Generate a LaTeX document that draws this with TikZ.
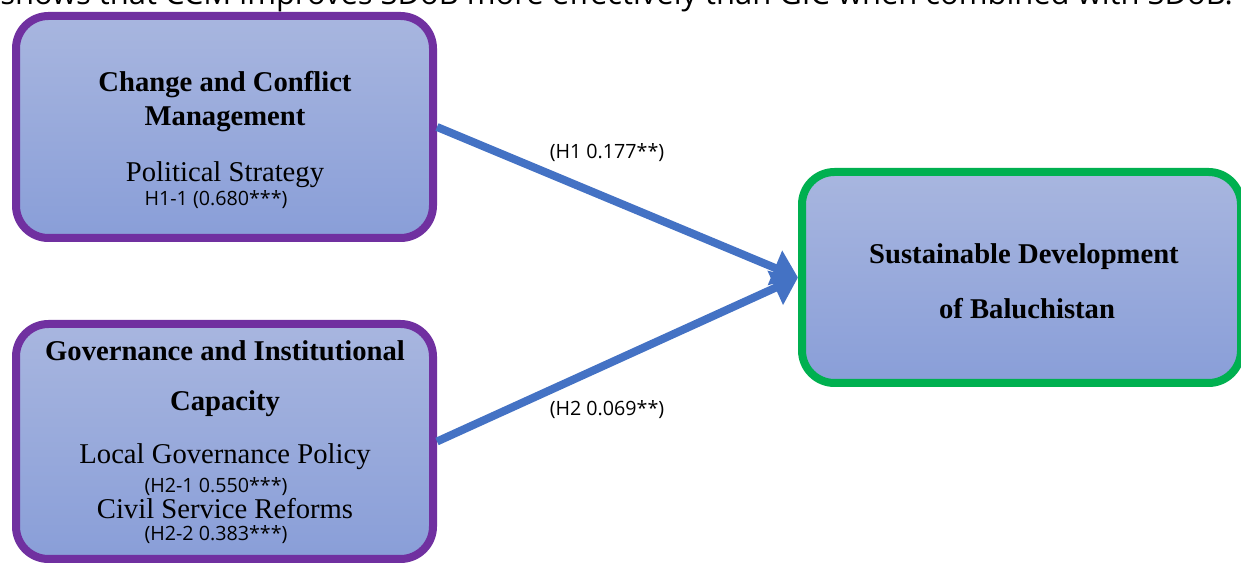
\documentclass[tikz,border=0pt]{standalone}
\usepackage{fontspec}
\setmainfont{Liberation Serif}
\newfontfamily\labelfont{Open Sans}
\usepackage{xcolor}
\usetikzlibrary{positioning}
\usetikzlibrary{arrows.meta}
\usetikzlibrary{math}

\definecolor{boxtop}{HTML}{A8B6DF}
\definecolor{boxbottom}{HTML}{899ED8}
\definecolor{ivpurple}{HTML}{7030A0}
\definecolor{dvgreen}{HTML}{00B050}
\definecolor{pathblue}{HTML}{4472C4}

\tikzset{
  construct/.style={rectangle, rounded corners=0.65cm, line width=0.16cm,
    top color=boxtop, bottom color=boxbottom, inner sep=0pt},
  heading/.style={font=\fontsize{16.3}{18}\selectfont\bfseries, inner sep=0pt},
  item/.style={font=\fontsize{16.3}{18}\selectfont, inner sep=0pt},
  coef/.style={font=\labelfont\fontsize{11.2}{13}\selectfont, inner sep=0pt},
  effect/.style={draw=pathblue, line width=0.16cm,
    -{Triangle[length=0.5cm,width=0.72cm]}},
}

\begin{document}
\begin{tikzpicture}

  \useasboundingbox (0,0) rectangle (24.82,-11.3);
  \clip (0,0) rectangle (24.82,-11.3);

  % Caption line cut off above the figure
  \node[font=\labelfont\fontsize{17.6}{20}\selectfont, inner sep=0pt,
    anchor=base west] (caption) at (0,-0.1)
    {shows that CCM improves SDoB more effectively than GIC when combined with SDoB.};

  % Constructs
  \node[construct, draw=ivpurple, minimum width=8.34cm, minimum height=4.44cm]
    (ccm) at (4.49,-2.54) {};
  \node[construct, draw=ivpurple, minimum width=8.34cm, minimum height=4.70cm]
    (gic) at (4.49,-8.83) {};
  \node[construct, draw=dvgreen, minimum width=8.78cm, minimum height=4.22cm]
    (sdob) at (20.43,-5.55) {};

  % Texts of CCM
  \node[heading] (ccmtitle) at (4.50,-1.70) {Change and Conflict};
  \node[heading] (ccmtitle2) at (4.50,-2.38) {Management};
  \node[item] (polstrat) at (4.50,-3.50) {Political Strategy};
  \node[coef] (h11) at (4.32,-4.00) {H1-1 (0.680***)};

  % Texts of GIC
  \node[heading] (gictitle) at (4.50,-7.02) {Governance and Institutional};
  \node[heading] (gictitle2) at (4.50,-8.08) {Capacity};
  \node[item] (localgov) at (4.50,-9.14) {Local Governance Policy};
  \node[coef] (h21) at (4.32,-9.74) {(H2-1 0.550***)};
  \node[item] (civil) at (4.50,-10.18) {Civil Service Reforms};
  \node[coef] (h22) at (4.32,-10.70) {(H2-2 0.383***)};

  % Texts of SDoB
  \node[heading] (sdobtitle) at (20.48,-5.14) {Sustainable Development};
  \node[heading] (sdobtitle2) at (20.54,-6.18) {of Baluchistan};

  % Paths
  \draw[effect] (ccm.east) -- (sdob.west);
  \draw[effect] (gic.east) -- (sdob.west);
  \node[coef] (h1) at (12.14,-3.06) {(H1 0.177**)};
  \node[coef] (h2) at (12.14,-8.20) {(H2 0.069**)};

\end{tikzpicture}
\end{document}
